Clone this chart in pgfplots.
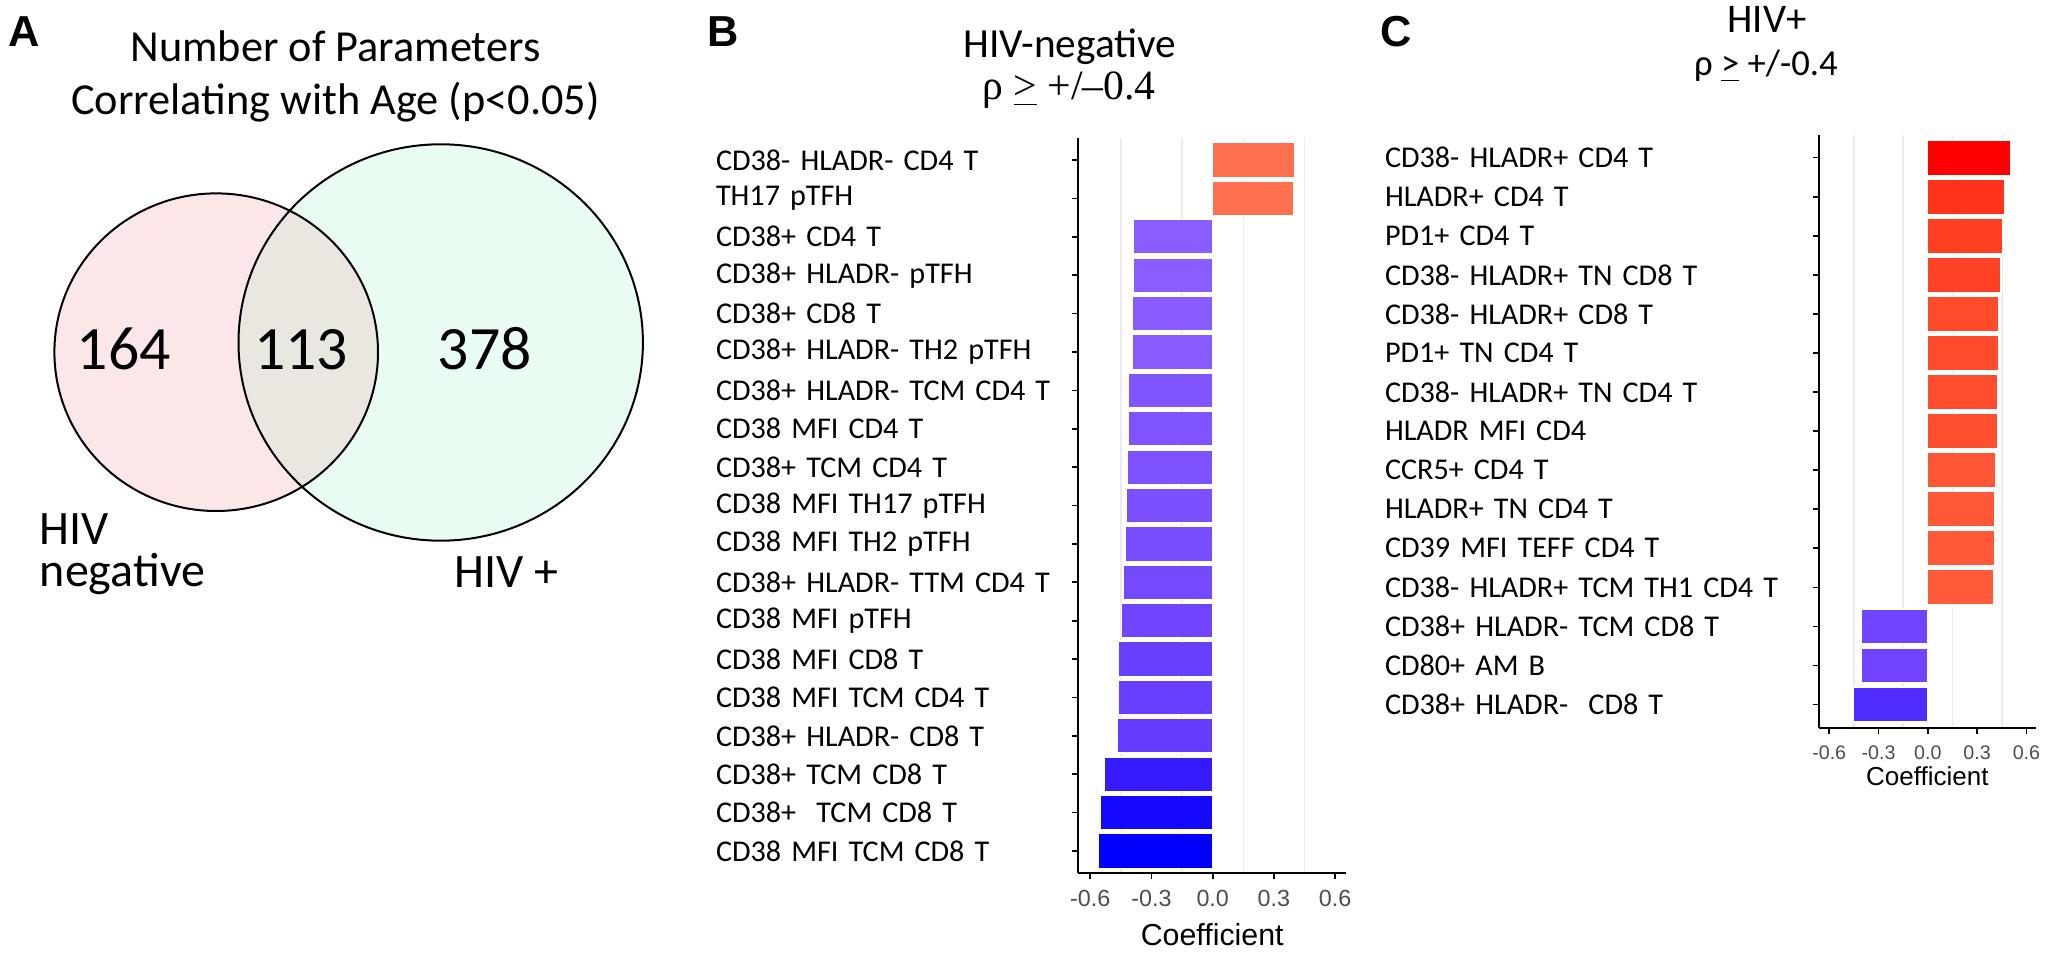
\documentclass[border=0pt]{standalone}
\usepackage{pgfplots}
\pgfplotsset{compat=1.18}
\usepackage{fontspec}
\setmainfont{Carlito}
\newfontfamily\arialfont{Liberation Sans}
\newfontfamily\serifont{Liberation Serif}

\definecolor{tickgray}{HTML}{4D4D4D}
\definecolor{gridgray}{HTML}{EBEBEB}
\definecolor{vennpink}{HTML}{FCE7E8}
\definecolor{venngreen}{HTML}{E9FCF1}
\definecolor{venngray}{HTML}{EAE6E0}
% bar colours, blue - white - red gradient
\definecolor{b01}{HTML}{FF704E}
\definecolor{b03}{HTML}{8A5DFF}
\definecolor{b05}{HTML}{885BFF}
\definecolor{b07}{HTML}{8054FF}
\definecolor{b08}{HTML}{7F53FF}
\definecolor{b09}{HTML}{7D51FF}
\definecolor{b10}{HTML}{7B4FFF}
\definecolor{b11}{HTML}{794DFF}
\definecolor{b12}{HTML}{7549FF}
\definecolor{b13}{HTML}{7145FF}
\definecolor{b14}{HTML}{683EFF}
\definecolor{b16}{HTML}{653CFF}
\definecolor{b17}{HTML}{361AFF}
\definecolor{b18}{HTML}{1508FF}
\definecolor{b19}{HTML}{0000FF}
\definecolor{c01}{HTML}{FF0000}
\definecolor{c02}{HTML}{FF3319}
\definecolor{c03}{HTML}{FF3E22}
\definecolor{c04}{HTML}{FF4225}
\definecolor{c05}{HTML}{FF4A2B}
\definecolor{c07}{HTML}{FF4D2D}
\definecolor{c08}{HTML}{FF4F2F}
\definecolor{c09}{HTML}{FF5736}
\definecolor{c10}{HTML}{FF5837}
\definecolor{c11}{HTML}{FF5939}
\definecolor{c12}{HTML}{FF5A3A}
\definecolor{c13}{HTML}{7145FF}
\definecolor{c15}{HTML}{502BFF}

\pgfplotsset{
  bb/.style={bar shift=0pt, draw=white, line width=0.4pt, fill=#1},
  barpanel/.style={
    scale only axis,
    anchor=south west,
    y dir=reverse,
    xbar, bar width=0.9,
    axis lines=left,
    axis line style={-, line width=0.8pt, black},
    tick align=outside,
    major tick length=1.7pt,
    minor tick length=0pt,
    tick style={black, line width=0.5pt},
    xtick={-0.6,-0.3,0,0.3,0.6},
    xticklabels={-0.6,-0.3,0.0,0.3,0.6},
    minor xtick={-0.45,-0.15,0.15,0.45},
    xminorgrids=true,
    minor x grid style={gridgray, line width=0.5pt},
    xticklabel style={text=tickgray},
    yticklabel style={font=\fontsize{9.05}{11}\selectfont, align=left, inner xsep=0pt},
    xlabel={Coefficient},
    xlabel style={at={(axis description cs:0.5,0)}, anchor=base},
  },
}

\begin{document}
\begin{tikzpicture}
\useasboundingbox (0,0) rectangle (615pt,286.2pt);

% overlay in pixel coordinates: Venn diagram and titles
\begin{axis}[at={(0pt,0pt)}, anchor=south west, x=0.3pt, y=0.3pt,
  xmin=0, xmax=2050, ymin=0, ymax=954, y dir=reverse,
  enlargelimits=false, hide axis, clip=false]
  \fill[vennpink] (axis cs:216.2,352.2) ellipse [x radius=161.8, y radius=158.8];
  \fill[venngreen] (axis cs:440.7,342.5) ellipse [x radius=202.2, y radius=198.2];
  \begin{scope}
    \clip (axis cs:216.2,352.2) ellipse [x radius=161.8, y radius=158.8];
    \fill[venngray] (axis cs:440.7,342.5) ellipse [x radius=202.2, y radius=198.2];
  \end{scope}
  \draw[black, line width=0.6pt] (axis cs:216.2,352.2) ellipse [x radius=161.8, y radius=158.8];
  \draw[black, line width=0.6pt] (axis cs:440.7,342.5) ellipse [x radius=202.2, y radius=198.2];

  \node[anchor=base, font=\fontsize{18.5}{20}\selectfont] at (axis cs:123.7,370) {164};
  \node[anchor=base, font=\fontsize{18.5}{20}\selectfont] at (axis cs:300.9,370) {113};
  \node[anchor=base, font=\fontsize{18.5}{20}\selectfont] at (axis cs:484.8,370) {378};
  \node[anchor=base west, inner sep=0pt, font=\fontsize{14.4}{16}\selectfont] at (axis cs:39.2,545) {HIV};
  \node[anchor=base west, inner sep=0pt, font=\fontsize{14.4}{16}\selectfont] at (axis cs:39.2,587) {negative};
  \node[anchor=base west, inner sep=0pt, font=\fontsize{14.4}{16}\selectfont] at (axis cs:453.8,588) {HIV +};

  \node[anchor=base, font=\fontsize{13.3}{15}\selectfont] at (axis cs:335.5,62) {Number of Parameters};
  \node[anchor=base, font=\fontsize{13.3}{15}\selectfont] at (axis cs:335.5,115) {Correlating with Age (p<0.05)};

  \node[anchor=base west, inner sep=0pt, font=\arialfont\bfseries\fontsize{13}{15}\selectfont] at (axis cs:8,47) {A};
  \node[anchor=base west, inner sep=0pt, font=\arialfont\bfseries\fontsize{13}{15}\selectfont] at (axis cs:706.7,47) {B};
  \node[anchor=base west, inner sep=0pt, font=\arialfont\bfseries\fontsize{13}{15}\selectfont] at (axis cs:1380,47) {C};

  \node[anchor=base, font=\fontsize{12.4}{14}\selectfont] at (axis cs:1070,58) {HIV-negative};
  \node[anchor=base, font=\serifont\fontsize{12.5}{14}\selectfont] at (axis cs:1069,100) {ρ \underline{>} +/–0.4};
  \node[anchor=base, font=\fontsize{12.2}{14}\selectfont] at (axis cs:1767,33) {HIV+};
  \node[anchor=base, font=\fontsize{11}{13}\selectfont] at (axis cs:1766,76) {ρ \underline{>} +/-0.4};
\end{axis}

% B: HIV-negative
\begin{axis}[barpanel,
  at={(323.4pt,24.3pt)}, width=80.52pt, height=220.5pt,
  xmin=-0.660, xmax=0.655, ymin=0.427, ymax=19.573,
  ytick={1,...,19},
  yticklabels={CD38- HLADR- CD4 T, TH17 pTFH, CD38+ CD4 T, CD38+ HLADR- pTFH,
    CD38+ CD8 T, CD38+ HLADR- TH2 pTFH, CD38+ HLADR- TCM CD4 T, CD38 MFI CD4 T,
    CD38+ TCM CD4 T, CD38 MFI TH17 pTFH, CD38 MFI TH2 pTFH, CD38+ HLADR- TTM CD4 T,
    CD38 MFI pTFH, CD38 MFI CD8 T, CD38 MFI TCM CD4 T, CD38+ HLADR- CD8 T,
    CD38+ TCM CD8 T, CD38+\ \ TCM CD8 T, CD38 MFI TCM CD8 T},
  yticklabel style={text width=106.7pt},
  xticklabel style={font=\arialfont\fontsize{7}{8}\selectfont},
  xlabel style={font=\arialfont\fontsize{9.1}{10}\selectfont, yshift=-21.6pt},
]
  \addplot[bb=b01] coordinates {(0.400,1)};
  \addplot[bb=b01] coordinates {(0.398,2)};
  \addplot[bb=b03] coordinates {(-0.391,3)};
  \addplot[bb=b03] coordinates {(-0.391,4)};
  \addplot[bb=b05] coordinates {(-0.396,5)};
  \addplot[bb=b05] coordinates {(-0.396,6)};
  \addplot[bb=b07] coordinates {(-0.413,7)};
  \addplot[bb=b08] coordinates {(-0.415,8)};
  \addplot[bb=b09] coordinates {(-0.419,9)};
  \addplot[bb=b10] coordinates {(-0.424,10)};
  \addplot[bb=b11] coordinates {(-0.430,11)};
  \addplot[bb=b12] coordinates {(-0.439,12)};
  \addplot[bb=b13] coordinates {(-0.448,13)};
  \addplot[bb=b14] coordinates {(-0.463,14)};
  \addplot[bb=b14] coordinates {(-0.463,15)};
  \addplot[bb=b16] coordinates {(-0.468,16)};
  \addplot[bb=b17] coordinates {(-0.533,17)};
  \addplot[bb=b18] coordinates {(-0.552,18)};
  \addplot[bb=b19] coordinates {(-0.559,19)};
\end{axis}

% C: HIV+
\begin{axis}[barpanel,
  at={(545.7pt,67.8pt)}, width=64.98pt, height=177.9pt,
  xmin=-0.662, xmax=0.656, ymin=0.42, ymax=15.6,
  ytick={1,...,15},
  yticklabels={CD38- HLADR+ CD4 T, HLADR+ CD4 T, PD1+ CD4 T, CD38- HLADR+ TN CD8 T,
    CD38- HLADR+ CD8 T, PD1+ TN CD4 T, CD38- HLADR+ TN CD4 T, HLADR MFI CD4,
    CCR5+ CD4 T, HLADR+ TN CD4 T, CD39 MFI TEFF CD4 T, CD38- HLADR+ TCM TH1 CD4 T,
    CD38+ HLADR- TCM CD8 T, CD80+ AM B, CD38+ HLADR-\ \ CD8 T},
  yticklabel style={text width=128.3pt},
  xticklabel style={font=\arialfont\fontsize{5.9}{7}\selectfont},
  xlabel style={font=\arialfont\fontsize{7.8}{9}\selectfont, yshift=-17.1pt},
]
  \addplot[bb=c01] coordinates {(0.502,1)};
  \addplot[bb=c02] coordinates {(0.467,2)};
  \addplot[bb=c03] coordinates {(0.453,3)};
  \addplot[bb=c04] coordinates {(0.445,4)};
  \addplot[bb=c05] coordinates {(0.432,5)};
  \addplot[bb=c05] coordinates {(0.432,6)};
  \addplot[bb=c07] coordinates {(0.426,7)};
  \addplot[bb=c08] coordinates {(0.423,8)};
  \addplot[bb=c09] coordinates {(0.410,9)};
  \addplot[bb=c10] coordinates {(0.407,10)};
  \addplot[bb=c11] coordinates {(0.404,11)};
  \addplot[bb=c12] coordinates {(0.402,12)};
  \addplot[bb=c13] coordinates {(-0.402,13)};
  \addplot[bb=c13] coordinates {(-0.402,14)};
  \addplot[bb=c15] coordinates {(-0.451,15)};
\end{axis}
\end{tikzpicture}
\end{document}
